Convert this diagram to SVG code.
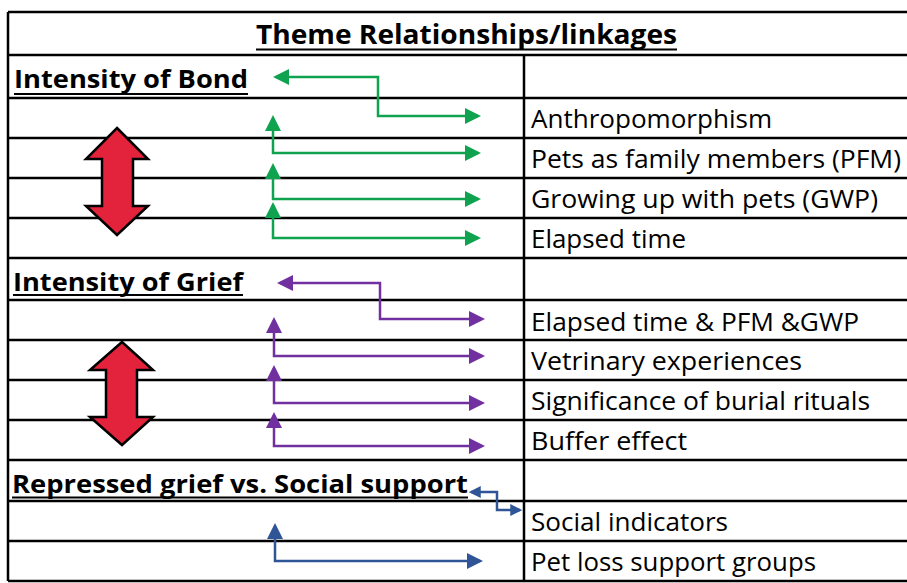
<svg xmlns="http://www.w3.org/2000/svg" width="907" height="583" viewBox="0 0 907 583">
<style>
.grid{stroke:#000;stroke-width:2.5;fill:none}
.h{font-family:"Open Sans","Liberation Sans",sans-serif;font-weight:700;fill:#000}
.t{font-family:"Open Sans","Liberation Sans",sans-serif;font-size:25px;fill:#000}
.ul{stroke:#000;stroke-width:2.2}
.cg{fill:none;stroke:#0fa350;stroke-width:2.5}
.cp{fill:none;stroke:#7030a0;stroke-width:2.5}
.cb{fill:none;stroke:#2f5597;stroke-width:2.5}
.big{fill:#e2233b;stroke:#000;stroke-width:2.5;stroke-linejoin:miter}
</style>
<defs>
<marker id="ag" viewBox="0 0 16 16" markerUnits="userSpaceOnUse" markerWidth="16" markerHeight="16" refX="13" refY="8" orient="auto-start-reverse"><path d="M0,0 L16,8 L0,16 z" fill="#0fa350"/></marker>
<marker id="ap" viewBox="0 0 16 16" markerUnits="userSpaceOnUse" markerWidth="16" markerHeight="16" refX="13" refY="8" orient="auto-start-reverse"><path d="M0,0 L16,8 L0,16 z" fill="#7030a0"/></marker>
<marker id="ab" viewBox="0 0 16 16" markerUnits="userSpaceOnUse" markerWidth="16" markerHeight="16" refX="13" refY="8" orient="auto-start-reverse"><path d="M0,0 L16,8 L0,16 z" fill="#2f5597"/></marker>
<marker id="abs" viewBox="0 0 16 16" markerUnits="userSpaceOnUse" markerWidth="12" markerHeight="12" refX="13" refY="8" orient="auto-start-reverse"><path d="M0,0 L16,8 L0,16 z" fill="#2f5597"/></marker>
</defs>
<rect width="907" height="583" fill="#fff"/>
<g id="table">
<path class="grid" d="M8,12 H907 M8,55 H907 M8,98 H907 M8,138 H907 M8,178 H907 M8,218 H907 M8,258 H907 M8,300 H907 M8,340 H907 M8,380 H907 M8,420 H907 M8,460 H907 M8,501 H907 M8,541 H907 M8,581 H907 M8,12 V581 M524,55 V581"/>
</g>
<g id="title">
<text class="h" x="256" y="44" font-size="26" textLength="421" lengthAdjust="spacingAndGlyphs">Theme Relationships/linkages</text>
<line class="ul" x1="256" y1="49.5" x2="677" y2="49.5"/>
</g>
<g id="bond">
<text class="h" x="14" y="88" font-size="24.5" textLength="234" lengthAdjust="spacingAndGlyphs">Intensity of Bond</text>
<line class="ul" x1="14" y1="94" x2="248" y2="94"/>
</g>
<g id="grief">
<text class="h" x="13" y="291" font-size="24.5" textLength="230" lengthAdjust="spacingAndGlyphs">Intensity of Grief</text>
<line class="ul" x1="13" y1="295" x2="243" y2="295"/>
</g>
<g id="repressed">
<text class="h" x="12" y="493" font-size="24.5" textLength="456" lengthAdjust="spacingAndGlyphs">Repressed grief vs. Social support</text>
<line class="ul" x1="12" y1="497.5" x2="468" y2="497.5"/>
</g>
<g id="anthro"><text class="t" x="531" y="128" textLength="241" lengthAdjust="spacingAndGlyphs">Anthropomorphism</text></g>
<g id="pfm"><text class="t" x="531" y="168" textLength="370" lengthAdjust="spacingAndGlyphs">Pets as family members (PFM)</text></g>
<g id="gwp"><text class="t" x="531" y="208" textLength="347" lengthAdjust="spacingAndGlyphs">Growing up with pets (GWP)</text></g>
<g id="elapsed"><text class="t" x="531" y="248" textLength="155" lengthAdjust="spacingAndGlyphs">Elapsed time</text></g>
<g id="elapsed-pfm-gwp"><text class="t" x="531" y="331" textLength="328" lengthAdjust="spacingAndGlyphs">Elapsed time &amp; PFM &amp;GWP</text></g>
<g id="vet"><text class="t" x="531" y="370" textLength="271" lengthAdjust="spacingAndGlyphs">Vetrinary experiences</text></g>
<g id="burial"><text class="t" x="531" y="410" textLength="339" lengthAdjust="spacingAndGlyphs">Significance of burial rituals</text></g>
<g id="buffer"><text class="t" x="531" y="450" textLength="156" lengthAdjust="spacingAndGlyphs">Buffer effect</text></g>
<g id="social"><text class="t" x="531" y="531" textLength="197" lengthAdjust="spacingAndGlyphs">Social indicators</text></g>
<g id="petloss"><text class="t" x="531" y="571" textLength="285" lengthAdjust="spacingAndGlyphs">Pet loss support groups</text></g>
<g id="bond-arrow"><polygon class="big" points="117,128 148,159 133,159 133,206 148,206 117,235 86,206 102,206 102,159 86,159"/></g>
<g id="grief-arrow"><polygon class="big" points="122,342 153,370 137,370 137,417 153,417 122,445 90,417 106,417 106,370 90,370"/></g>
<g id="connectors">
<path class="cg" d="M276,77 H378 V116 H478" marker-start="url(#ag)" marker-end="url(#ag)"/>
<path class="cg" d="M273,118 V153 H478" marker-start="url(#ag)" marker-end="url(#ag)"/>
<path class="cg" d="M273,166 V199 H478" marker-start="url(#ag)" marker-end="url(#ag)"/>
<path class="cg" d="M273,205 V238 H478" marker-start="url(#ag)" marker-end="url(#ag)"/>
<path class="cp" d="M280,283 H380 V319 H482" marker-start="url(#ap)" marker-end="url(#ap)"/>
<path class="cp" d="M274,320 V356 H482" marker-start="url(#ap)" marker-end="url(#ap)"/>
<path class="cp" d="M274,368 V403 H482" marker-start="url(#ap)" marker-end="url(#ap)"/>
<path class="cp" d="M274,415 V446 H482" marker-start="url(#ap)" marker-end="url(#ap)"/>
<path class="cb" d="M471,492 H497 V510 H520" marker-start="url(#abs)" marker-end="url(#abs)"/>
<path class="cb" d="M275,526 V561 H480" marker-start="url(#ab)" marker-end="url(#ab)"/>
</g>
</svg>
